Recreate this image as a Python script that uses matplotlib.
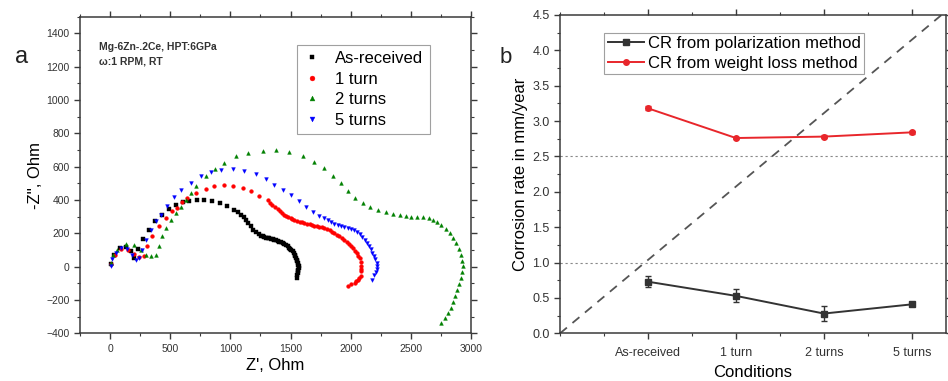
import matplotlib
matplotlib.use("Agg")
import matplotlib.pyplot as plt
from matplotlib.ticker import MultipleLocator

plt.rcParams['font.family'] = ['Liberation Sans', 'DejaVu Sans']

# ---------------- Panel a: Nyquist data ----------------
asrec_x = [5, 30, 80, 130, 170, 195, 235, 275, 320, 372, 428, 490, 548, 605, 657, 726, 782, 851, 915,
           976, 1032, 1062, 1087, 1110, 1129, 1150, 1171, 1192, 1212, 1234, 1254, 1268, 1282, 1296, 1310,
           1324, 1338, 1352, 1365, 1379, 1393, 1407, 1421, 1434, 1448, 1462, 1476, 1488, 1498, 1508, 1518,
           1527, 1534, 1540, 1546, 1552, 1557, 1561, 1565, 1567, 1567, 1565, 1563, 1560, 1557, 1554]
asrec_y = [15, 70, 110, 120, 95, 55, 105, 165, 222, 272, 312, 348, 372, 388, 395, 398, 398, 392, 380,
           362, 342, 328, 312, 298, 282, 262, 242, 222, 206, 195, 186, 182, 178, 175, 172,
           170, 167, 165, 162, 159, 155, 151, 146, 141, 135, 129, 122, 115, 108, 100, 92,
           82, 72, 62, 52, 42, 32, 22, 12, 2, -8, -18, -28, -38, -48, -68]

t1_x = [10, 40, 90, 150, 200, 240, 282, 310, 351, 407, 462, 518, 560, 600, 643, 712, 796, 865, 948, 1018,
        1101, 1171, 1240, 1310, 1330, 1350, 1372, 1393, 1412, 1430, 1446, 1462, 1481, 1500, 1516, 1532,
        1553, 1575, 1595, 1615, 1637, 1660, 1679, 1698, 1720, 1740, 1761, 1782, 1804, 1825, 1845, 1865,
        1885, 1905, 1927, 1948, 1967, 1985, 2002, 2018, 2035, 2050, 2063, 2074, 2082, 2088, 2088, 2086,
        2082, 2072, 2060, 2046, 2032, 2005, 1977]
t1_y = [15, 70, 105, 100, 75, 60, 62, 122, 182, 242, 292, 332, 352, 390, 412, 442, 466, 482, 490, 486,
        472, 452, 426, 398, 385, 372, 358, 346, 333, 322, 313, 306, 297, 290, 284, 278,
        274, 270, 266, 262, 258, 254, 250, 246, 243, 240, 236, 232, 226, 220, 211, 202,
        192, 182, 172, 162, 150, 138, 125, 112, 97, 82, 67, 52, 27, 2, -13, -28,
        -58, -70, -80, -88, -96, -106, -114]

t2_x = [5, 25, 60, 129, 198, 254, 296, 337, 379, 407, 435, 462, 504, 546, 587, 629, 670, 712, 796, 870,
        948, 1046, 1148, 1268, 1379, 1490, 1601, 1698, 1782, 1850, 1921, 1980, 2040, 2100, 2160, 2226,
        2290, 2350, 2407, 2460, 2504, 2550, 2601, 2650, 2685, 2720, 2754, 2790, 2823, 2850, 2879, 2900,
        2915, 2926, 2930, 2926, 2915, 2903, 2888, 2870, 2851, 2830, 2810, 2780, 2749]
t2_y = [20, 70, 102, 138, 132, 102, 72, 62, 72, 122, 182, 232, 282, 322, 358, 402, 445, 486, 542, 585,
        622, 662, 682, 696, 700, 686, 662, 628, 590, 545, 500, 455, 415, 385, 360, 342,
        328, 315, 308, 302, 300, 298, 296, 290, 282, 268, 250, 225, 202, 172, 142, 105,
        72, 35, 2, -30, -68, -103, -138, -173, -210, -245, -278, -310, -340]

t5_x = [4, 20, 46, 87, 143, 185, 212, 240, 268, 296, 337, 379, 421, 476, 532, 593, 671, 754, 837, 921,
        1018, 1115, 1212, 1296, 1365, 1435, 1504, 1573, 1629, 1685, 1740, 1775, 1810, 1838, 1865, 1893,
        1920, 1948, 1977, 2005, 2030, 2053, 2075, 2096, 2115, 2133, 2150, 2166, 2180, 2194, 2205, 2215,
        2221, 2218, 2212, 2198, 2175]
t5_y = [2, 45, 82, 112, 106, 72, 42, 52, 102, 162, 222, 272, 312, 362, 420, 462, 502, 542, 568, 582,
        586, 572, 556, 526, 492, 462, 428, 392, 358, 326, 302, 290, 278, 266, 255, 249,
        243, 239, 235, 229, 222, 210, 195, 178, 160, 143, 125, 105, 85, 65, 45, 25,
        5, -12, -30, -52, -78]

nyq_labels = ['As-received', '1 turn', '2 turns', '5 turns']
nyq_colors = ['#000000', '#ff0000', '#008000', '#0000ff']
nyq_markers = ['s', 'o', '^', 'v']

# ---------------- Panel b: corrosion rates ----------------
conditions = ['As-received', '1 turn', '2 turns', '5 turns']
cr_polar = [0.73, 0.53, 0.28, 0.41]
cr_polar_err = [0.08, 0.09, 0.11, 0.02]
cr_weight = [3.18, 2.76, 2.78, 2.84]
cr_weight_err = [0.03, 0.02, 0.02, 0.02]
ref_levels = [1.0, 2.5]
diag_slope = 1.037

fig = plt.figure(figsize=(9.48, 3.81), dpi=100)
spine_c = '#3a3a3a'

# ---------- Left ----------
ax1 = fig.add_axes([0.0844, 0.125, 0.4124, 0.831])
series = [(asrec_x, asrec_y), (t1_x, t1_y), (t2_x, t2_y), (t5_x, t5_y)]
for (xs, ys), lab, c, m in zip(series, nyq_labels, nyq_colors, nyq_markers):
    ax1.plot(xs, ys, linestyle='none', marker=m, markersize=2.7, color=c,
             markeredgewidth=0.3, label=lab)
ax1.set_xlim(-250, 3000)
ax1.set_ylim(-400, 1500)
ax1.xaxis.set_major_locator(MultipleLocator(500))
ax1.xaxis.set_minor_locator(MultipleLocator(250))
ax1.yaxis.set_major_locator(MultipleLocator(200))
ax1.yaxis.set_minor_locator(MultipleLocator(100))
ax1.set_xlabel("Z', Ohm", fontsize=12, labelpad=3)
ax1.set_ylabel("-Z'', Ohm", fontsize=12, labelpad=2)
leg1 = ax1.legend(loc='upper left', bbox_to_anchor=(0.555, 0.912), fontsize=12, frameon=True,
                  fancybox=False, edgecolor='#888888', handlelength=1.0, handletextpad=0.9,
                  labelspacing=0.33, borderpad=0.4, borderaxespad=0, markerscale=1.3)
leg1.get_frame().set_linewidth(0.8)
ax1.text(0.048, 0.905, 'Mg-6Zn-.2Ce, HPT:6GPa', transform=ax1.transAxes, fontsize=7.5,
         fontweight='bold', color='#333333', va='center')
ax1.text(0.048, 0.858, 'ω:1 RPM, RT', transform=ax1.transAxes, fontsize=7.5,
         fontweight='bold', color='#333333', va='center')

# ---------- Right ----------
ax2 = fig.add_axes([0.5907, 0.125, 0.4073, 0.836])
xpos = list(range(1, len(conditions) + 1))
ax2.errorbar(xpos, cr_polar, yerr=cr_polar_err, color='#333333', fmt='none',
             capsize=2.5, elinewidth=1.0)
ax2.errorbar(xpos, cr_weight, yerr=cr_weight_err, color='#e8262b', fmt='none',
             capsize=2.5, elinewidth=1.0)
ax2.plot(xpos, cr_polar, color='#333333', marker='s', markersize=4, linewidth=1.4,
         label='CR from polarization method')
ax2.plot(xpos, cr_weight, color='#e8262b', marker='o', markersize=4, linewidth=1.4,
         label='CR from weight loss method')
for lv in ref_levels:
    ax2.axhline(lv, color='#888888', linestyle=(0, (2, 2.5)), linewidth=0.8, zorder=0)
ax2.axline((0, 0), slope=diag_slope, color='#555555', linestyle=(0, (5, 4)), linewidth=1.3, zorder=0)
ax2.set_xlim(0, 4.39)
ax2.set_ylim(0, 4.5)
ax2.set_xticks(xpos)
ax2.set_xticklabels(conditions)
ax2.xaxis.set_minor_locator(MultipleLocator(0.5))
ax2.yaxis.set_major_locator(MultipleLocator(0.5))
ax2.yaxis.set_minor_locator(MultipleLocator(0.25))
ax2.set_xlabel('Conditions', fontsize=12, labelpad=4)
ax2.set_ylabel('Corrosion rate in mm/year', fontsize=12, labelpad=3)
leg2 = ax2.legend(loc='upper left', bbox_to_anchor=(0.115, 0.944), fontsize=12, frameon=True,
                  fancybox=False, edgecolor='#888888', handlelength=2.2, handletextpad=0.2,
                  labelspacing=0.3, borderpad=0.2, borderaxespad=0)
leg2.get_frame().set_linewidth(0.8)

for ax, fs in ((ax1, 7.5), (ax2, 9)):
    for sp in ax.spines.values():
        sp.set_color(spine_c)
        sp.set_linewidth(1.1)
    ax.tick_params(which='both', direction='out', color=spine_c, labelcolor='#333333', labelsize=fs,
                   top=True, right=True)
    ax.tick_params(which='major', length=4, width=1.0)
    ax.tick_params(which='minor', length=2.5, width=0.8)
ax1.tick_params(axis='both', which='both', labeltop=False, labelright=False)
ax2.tick_params(axis='x', pad=6)

fig.text(0.016, 0.85, 'a', fontsize=17, va='center', ha='left', color='#222222')
fig.text(0.527, 0.85, 'b', fontsize=16, va='center', ha='left', color='#222222')

fig.savefig('out.png', dpi=100)
